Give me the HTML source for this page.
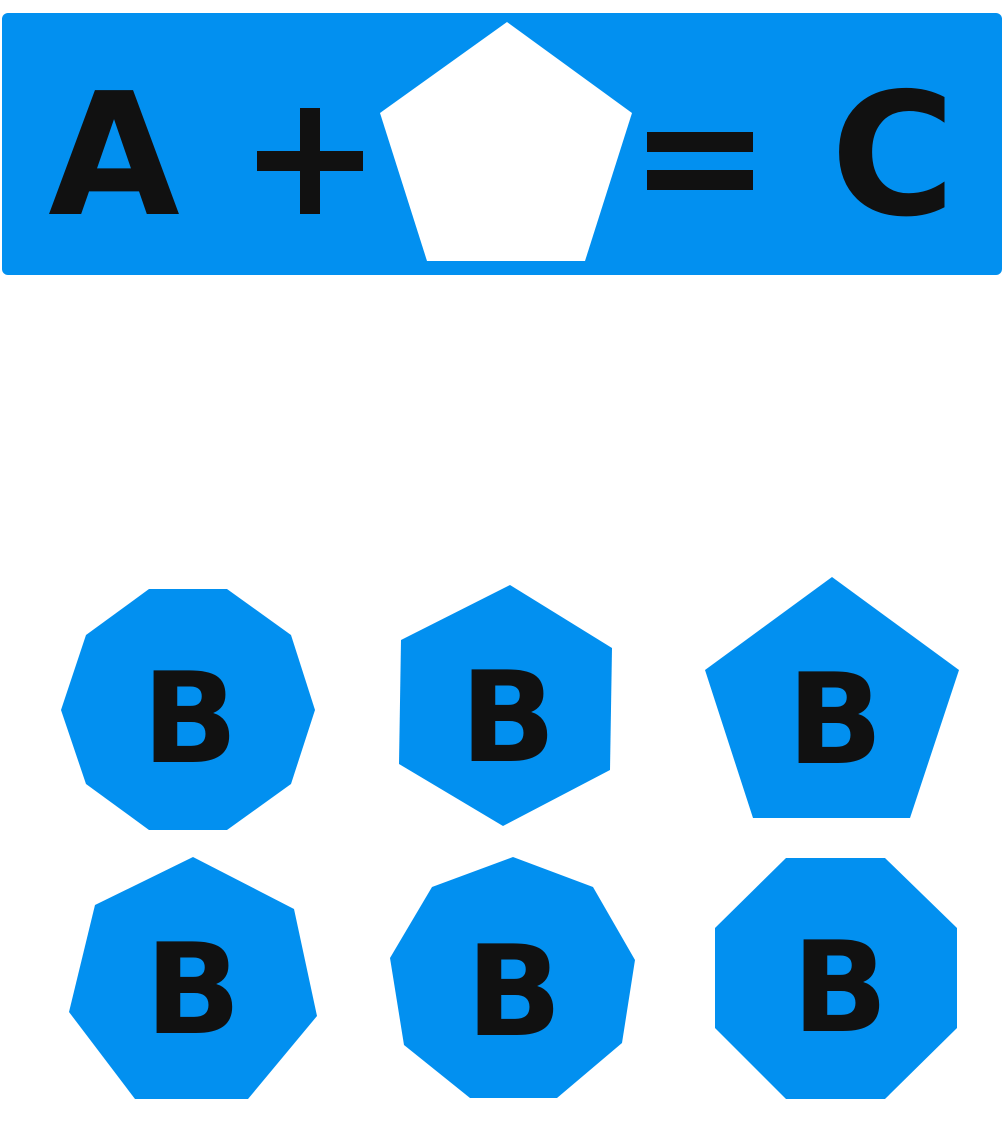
<!DOCTYPE html>
<html><head><meta charset="utf-8"><style>
html,body{margin:0;padding:0;background:#fff;}
svg{display:block;}
text{font-family:"DejaVu Sans","Liberation Sans",sans-serif;font-weight:bold;fill:#111;}
</style></head><body>
<svg width="1006" height="1124" viewBox="0 0 1006 1124">
<g>
<rect x="2" y="13" width="1000" height="262" rx="6" fill="#0290F0"/>
<text x="114" y="214" font-size="170" text-anchor="middle">A</text>
<rect x="257" y="151" width="106" height="20" fill="#111"/>
<rect x="300" y="108" width="20" height="106" fill="#111"/>
<polygon points="507,22 632,113 585,261 427,261 380,113" fill="#fff"/>
<rect x="647" y="132" width="106" height="20" fill="#111"/>
<rect x="647" y="170" width="106" height="20" fill="#111"/>
<text x="893" y="214" font-size="170" text-anchor="middle">C</text>
</g>
<g>
<polygon points="149,589 227,589 291,635 315,710 291,784 227,830 149,830 86,784 61,710 86,635" fill="#0290F0"/>
<text x="190" y="762" font-size="126" text-anchor="middle">B</text>
</g>
<g>
<polygon points="510,585 612,648 610,770 503,826 399,764 401,640" fill="#0290F0"/>
<text x="508" y="761" font-size="126" text-anchor="middle">B</text>
</g>
<g>
<polygon points="832,577 959,670 910,818 753,818 705,670" fill="#0290F0"/>
<text x="835" y="763" font-size="126" text-anchor="middle">B</text>
</g>
<g>
<polygon points="193,857 294,909 317,1016 248,1099 135,1099 69,1012 95,905" fill="#0290F0"/>
<text x="193" y="1033" font-size="126" text-anchor="middle">B</text>
</g>
<g>
<polygon points="513,857 593,887 635,960 622,1043 557,1098 470,1098 404,1045 390,958 432,887" fill="#0290F0"/>
<text x="514" y="1035" font-size="126" text-anchor="middle">B</text>
</g>
<g>
<polygon points="786,858 885,858 957,928 957,1028 885,1099 786,1099 715,1028 715,928" fill="#0290F0"/>
<text x="840" y="1031" font-size="126" text-anchor="middle">B</text>
</g>
</svg>
</body></html>
